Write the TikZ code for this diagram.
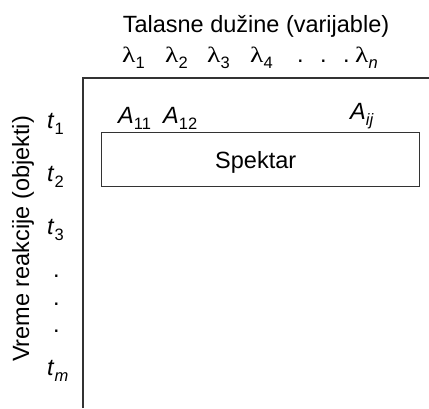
\documentclass[tikz,border=0pt]{standalone}
\usepackage{fontspec}
\usepackage{graphicx}
\setmainfont{Liberation Sans}
\newfontfamily\lamfont{Liberation Serif}
\newcommand\subsc[1]{\raisebox{-0.26em}{\fontsize{16.5}{16.5}\selectfont #1}}
\newcommand\lam[1]{{\lamfont\fontsize{22}{22}\selectfont\scalebox{1.25}[1]{λ}}\subsc{#1}}
\begin{document}
\begin{tikzpicture}[x=1pt,y=-1pt,
  lbl/.style={inner sep=0pt,anchor=base west,font=\fontsize{23.5}{26}\selectfont},
  frame/.style={draw=black!80,line width=1.4pt}]
\useasboundingbox (0,0) rectangle (429,408);
\coordinate (bl) at (83,408);
\coordinate (tl) at (83,78);
\coordinate (tr) at (429,78);
\draw[frame] (bl) -- (tl) -- (tr);
\node[frame,inner sep=0pt,minimum width=318pt,minimum height=54pt,anchor=north west] (spec) at (101,132) {};
\node[lbl] (spektar) at (215,168) {Spektar};
\node[lbl,anchor=base] (title) at (256,32) {Talasne dužine (varijable)};
\node[lbl] (l1) at (122,62) {\lam{1}};
\node[lbl] (l2) at (165,62) {\lam{2}};
\node[lbl] (l3) at (207,62) {\lam{3}};
\node[lbl] (l4) at (250,62) {\lam{4}};
\node[lbl] (d1) at (297,62) {.};
\node[lbl] (d2) at (320,62) {.};
\node[lbl] (d3) at (343,62) {.};
\node[lbl] (ln) at (355,62) {\lam{\textit{n}}};
\node[lbl] (a11) at (118,123) {\textit{A}\subsc{11}};
\node[lbl] (a12) at (163,123) {\textit{A}\subsc{12}};
\node[lbl] (aij) at (350,119) {\textit{A}\subsc{\textit{ij}}};
\node[lbl,anchor=center,rotate=90] (vreme) at (23,239) {Vreme reakcije (objekti)};
\node[lbl] (t1) at (47,128) {\textit{t}\subsc{1}};
\node[lbl] (t2) at (47,181) {\textit{t}\subsc{2}};
\node[lbl] (t3) at (47,234) {\textit{t}\subsc{3}};
\node[lbl] (v1) at (53,277) {.};
\node[lbl] (v2) at (53,305) {.};
\node[lbl] (v3) at (53,332) {.};
\node[lbl] (tm) at (47,375) {\textit{t}\subsc{\textit{m}}};
\end{tikzpicture}
\end{document}
